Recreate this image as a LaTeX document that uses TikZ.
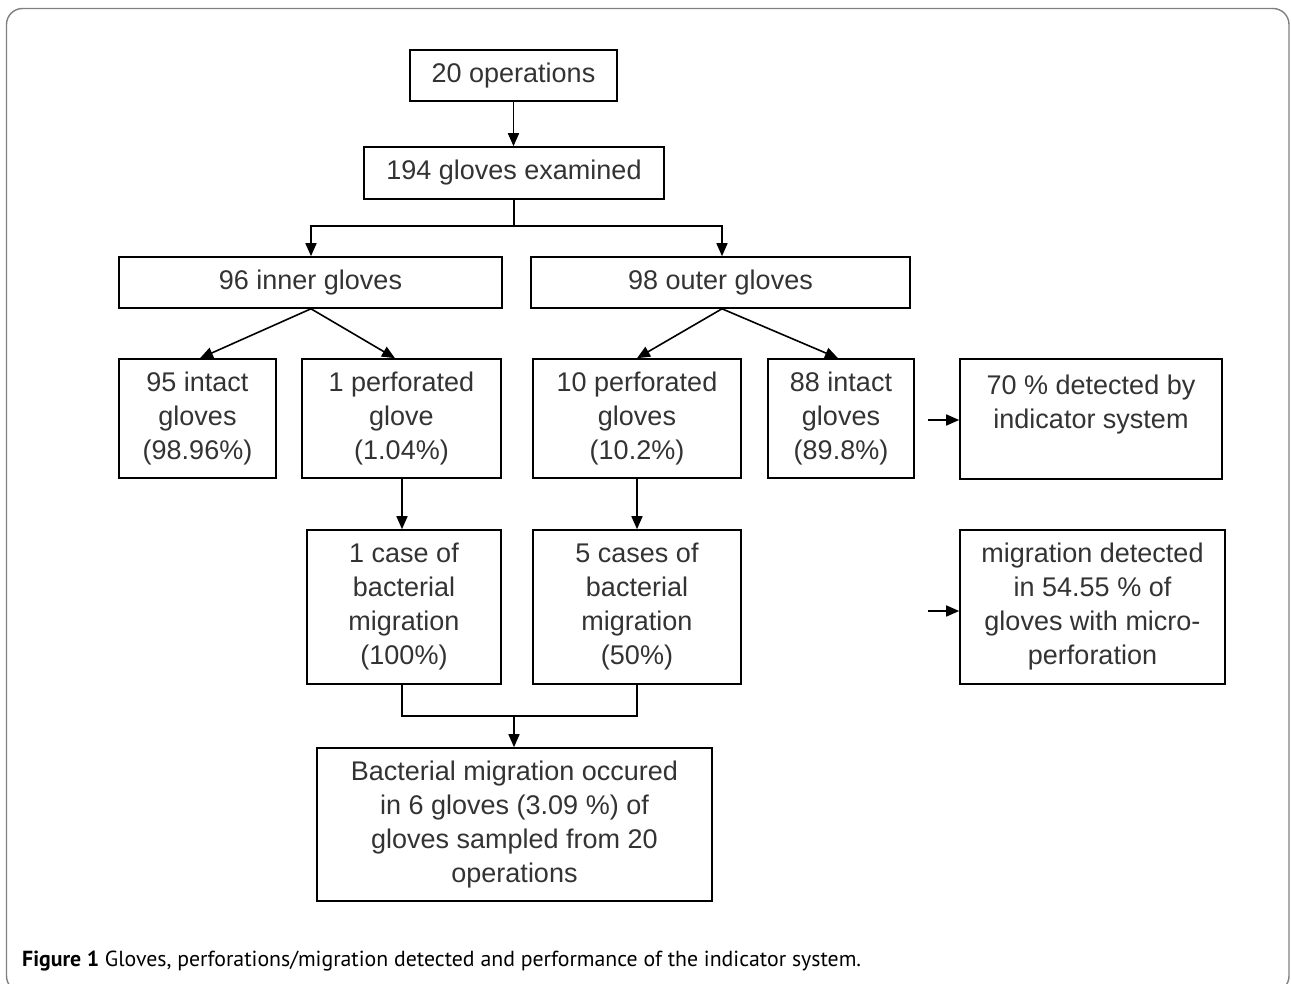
\documentclass[tikz,border=0pt]{standalone}
\usepackage{fontspec}
\setmainfont{Liberation Sans}
\newfontfamily\capfont{PT Sans}
\usetikzlibrary{arrows.meta}
\newcommand{\boxfont}{\fontsize{27}{34}\selectfont}
\tikzset{
  box/.style={draw=black, line width=1.6pt, inner sep=0pt, align=center, font=\boxfont, text=black!80},
  conn/.style={line width=1.6pt, draw=black},
  arr/.style={conn, -{Triangle[length=13pt,width=11pt]}},
  frame/.style={draw=black!50, line width=1.4pt, rounded corners=16pt}
}
\begin{document}
\begin{tikzpicture}[x=1pt,y=-1pt]
\useasboundingbox (0,0) rectangle (1291,984);
\fill[white] (0,0) rectangle (1291,984);
\draw[frame] (6.5,8.5) rectangle (1289,992);

\node[box, minimum width=207pt, minimum height=51pt] (ops) at (513.5,75.5) {20 operations};
\node[box, minimum width=300pt, minimum height=52pt] (exam) at (514,173) {194 gloves examined};
\node[box, minimum width=383pt, minimum height=51pt] (inner) at (310.5,282.5) {96 inner gloves};
\node[box, minimum width=379pt, minimum height=51pt] (outer) at (720.5,282.5) {98 outer gloves};

\node[box, minimum width=157pt, minimum height=119pt] (intactA) at (197.5,418.5) {95 intact\\gloves\\(98.96\%)};
\node[box, minimum width=199pt, minimum height=119pt] (perfA) at (401.5,418.5) {1 perforated\\glove\\(1.04\%)};
\node[box, minimum width=208pt, minimum height=119pt] (perfB) at (637,418.5) {10 perforated\\gloves\\(10.2\%)};
\node[box, minimum width=146pt, minimum height=119pt] (intactB) at (841,418.5) {88 intact\\gloves\\(89.8\%)};
\node[box, minimum width=262pt, minimum height=120pt] (detect) at (1091,419) {70 \% detected by\\indicator system\\~};

\node[box, minimum width=194pt, minimum height=154pt] (caseA) at (404,607) {1 case of\\bacterial\\migration\\(100\%)};
\node[box, minimum width=208pt, minimum height=154pt] (caseB) at (637,607) {5 cases of\\bacterial\\migration\\(50\%)};
\node[box, minimum width=265pt, minimum height=154pt] (micro) at (1092.5,607) {migration detected\\in 54.55 \% of\\gloves with micro-\\perforation};

\node[box, minimum width=395pt, minimum height=153pt] (total) at (514.5,824.5) {Bacterial migration occured\\in 6 gloves (3.09 \%) of\\gloves sampled from 20\\operations};

\coordinate (split) at (514,226);
\coordinate (join) at (514,716);
\coordinate (pA) at (928,420);
\coordinate (pB) at (928,611);

\draw[arr] (ops.south -| 513.5,0) -- (exam.north -| 513.5,0);
\draw[conn] (exam.south -| split) -- (split);
\draw[arr] (split) -| (inner.north -| 311,0);
\draw[arr] (split) -| (outer.north -| 722,0);

\draw[arr] (inner.south -| 311,0) -- (intactA.north -| 200,0);
\draw[arr] (inner.south -| 311,0) -- (perfA.north -| 395,0);
\draw[arr] (outer.south -| 722,0) -- (perfB.north -| 637,0);
\draw[arr] (outer.south -| 722,0) -- (intactB.north -| 838,0);

\draw[arr] (perfA.south -| 402,0) -- (caseA.north -| 402,0);
\draw[arr] (perfB.south -| 637,0) -- (caseB.north -| 637,0);

\draw[conn] (caseA.south -| 402,0) |- (join) -| (caseB.south -| 637,0);
\draw[arr] (join) -- (total.north -| join);

\draw[arr] (pA) -- (detect.west |- pA);
\draw[arr] (pB) -- (micro.west |- pB);

\node[anchor=base west, inner sep=0pt, font=\capfont\fontsize{21.8}{24}\selectfont] (cap) at (22,966) {\textbf{Figure 1} Gloves, perforations/migration detected and performance of the indicator system.};
\end{tikzpicture}
\end{document}
